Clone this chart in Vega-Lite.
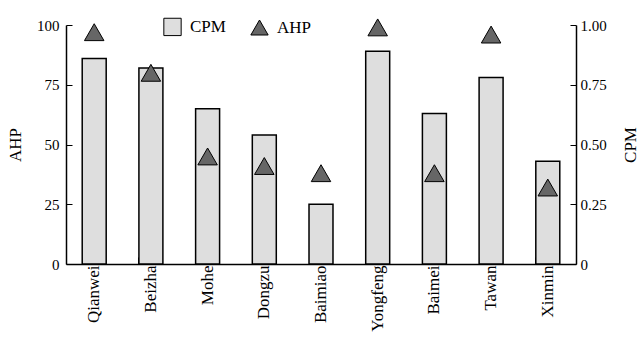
{
  "$schema": "https://vega.github.io/schema/vega-lite/v6.json",
  "width": 510,
  "height": 239,
  "autosize": {"type": "none"},
  "padding": {"left": 66, "top": 25, "right": 66, "bottom": 81},
  "background": "white",
  "config": {
    "font": "Liberation Serif",
    "view": {"stroke": null},
    "axis": {
      "labelFont": "Liberation Serif",
      "titleFont": "Liberation Serif",
      "labelFontSize": 15,
      "titleFontSize": 17,
      "titleFontWeight": "normal",
      "labelColor": "black",
      "titleColor": "black",
      "domainColor": "black",
      "tickColor": "black",
      "grid": false
    },
    "legend": {
      "labelFont": "Liberation Serif",
      "labelFontSize": 17,
      "labelColor": "black"
    }
  },
  "data": {
    "values": [
      {"site": "Qianwei", "CPM": 0.86, "AHP": 97},
      {"site": "Beizha", "CPM": 0.82, "AHP": 80},
      {"site": "Mohe", "CPM": 0.65, "AHP": 45},
      {"site": "Dongzu", "CPM": 0.54, "AHP": 41},
      {"site": "Baimiao", "CPM": 0.25, "AHP": 38},
      {"site": "Yongfeng", "CPM": 0.89, "AHP": 99},
      {"site": "Baimei", "CPM": 0.63, "AHP": 38},
      {"site": "Tawan", "CPM": 0.78, "AHP": 96},
      {"site": "Xinmin", "CPM": 0.43, "AHP": 32}
    ]
  },
  "encoding": {
    "x": {
      "field": "site",
      "type": "nominal",
      "sort": null,
      "scale": {"paddingInner": 0.577, "paddingOuter": 0.286},
      "axis": {
        "title": null,
        "labelAngle": -90,
        "labelFontSize": 17,
        "labelPadding": 8,
        "bandPosition": 0,
        "tickSize": -7,
        "domainWidth": 1.5
      }
    }
  },
  "layer": [
    {
      "mark": {"type": "bar", "stroke": "black", "strokeWidth": 1.5},
      "encoding": {
        "y": {
          "field": "CPM",
          "type": "quantitative",
          "scale": {"domain": [0, 1]},
          "axis": {
            "orient": "right",
            "title": "CPM",
            "titleAngle": 270,
            "titleBaseline": "top",
            "values": [0, 0.25, 0.5, 0.75, 1],
            "labelExpr": "datum.value == 0 ? '0' : format(datum.value, '.2f')",
            "tickSize": -6,
            "labelPadding": 10,
            "titlePadding": 16,
            "domainWidth": 1.5
          }
        },
        "fill": {
          "datum": "CPM",
          "scale": {"domain": ["CPM", "AHP"], "range": ["#dedede", "#666666"]},
          "legend": {
            "title": null,
            "orient": "none",
            "direction": "horizontal",
            "legendX": 97,
            "legendY": -8,
            "symbolSize": 300,
            "symbolStrokeColor": "black",
            "symbolStrokeWidth": 1,
            "symbolOpacity": 1,
            "labelOffset": 8,
            "columnPadding": 22,
            "padding": 0,
            "encode": {
              "symbols": {
                "update": {
                  "shape": {"scale": "shape", "field": "value"},
                  "fill": {"scale": "fill", "field": "value"},
                  "stroke": {"value": "black"}
                }
              }
            }
          }
        }
      }
    },
    {
      "mark": {"type": "point", "filled": true, "stroke": "black", "strokeWidth": 1, "size": 380, "opacity": 1},
      "encoding": {
        "y": {
          "field": "AHP",
          "type": "quantitative",
          "scale": {"domain": [0, 100]},
          "axis": {
            "orient": "left",
            "title": "AHP",
            "values": [0, 25, 50, 75, 100],
            "tickSize": -6,
            "labelPadding": 13,
            "titlePadding": 12,
            "domainWidth": 1.5
          }
        },
        "fill": {"datum": "AHP"},
        "shape": {
          "datum": "AHP",
          "scale": {"domain": ["CPM", "AHP"], "range": ["square", "triangle-up"]},
          "legend": null
        }
      }
    }
  ],
  "resolve": {"scale": {"y": "independent"}}
}
